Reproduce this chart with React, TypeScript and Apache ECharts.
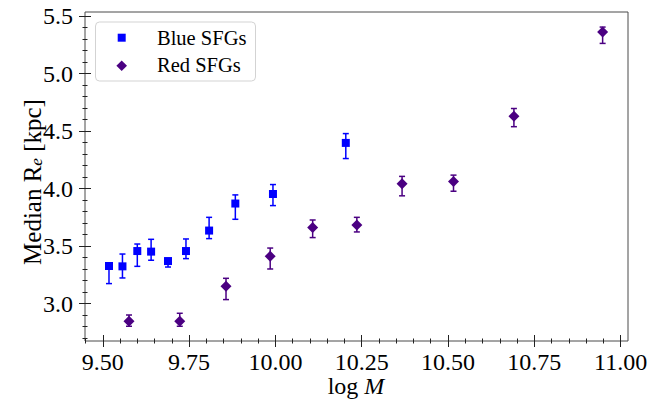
import React, { useEffect, useRef } from "react";
import * as echarts from "echarts";

// Blue SFGs: log M, median Re, lower / upper error-bar ends
const blueX = [9.518, 9.557, 9.6, 9.64, 9.689, 9.741, 9.808, 9.884, 9.993, 10.204];
const blueY = [3.327, 3.324, 3.457, 3.452, 3.37, 3.457, 3.635, 3.87, 3.953, 4.397];
const blueLo = [3.174, 3.223, 3.324, 3.377, 3.318, 3.391, 3.565, 3.733, 3.852, 4.261];
const blueHi = [3.345, 3.431, 3.518, 3.559, 3.39, 3.562, 3.75, 3.945, 4.035, 4.478];

// Red SFGs
const redX = [9.576, 9.723, 9.857, 9.985, 10.108, 10.236, 10.367, 10.516, 10.691, 10.948];
const redY = [2.846, 2.846, 3.15, 3.411, 3.661, 3.684, 4.042, 4.062, 4.629, 5.361];
const redLo = [2.803, 2.803, 3.035, 3.301, 3.574, 3.623, 3.937, 3.977, 4.538, 5.262];
const redHi = [2.901, 2.916, 3.22, 3.483, 3.727, 3.75, 4.106, 4.117, 4.696, 5.404];

// Axis ranges and ticks
const X_MIN = 9.4485;
const X_MAX = 11.0215;
const Y_MIN = 2.675;
const Y_MAX = 5.535;
const xMajor = [9.5, 9.75, 10.0, 10.25, 10.5, 10.75, 11.0];
const xMinor = [
  9.45, 9.55, 9.6, 9.65, 9.7, 9.8, 9.85, 9.9, 9.95, 10.05, 10.1, 10.15, 10.2,
  10.3, 10.35, 10.4, 10.45, 10.55, 10.6, 10.65, 10.7, 10.8, 10.85, 10.9, 10.95,
];
const yMajor = [3.0, 3.5, 4.0, 4.5, 5.0, 5.5];
const yMinor = [
  2.7, 2.8, 2.9, 3.1, 3.2, 3.3, 3.4, 3.6, 3.7, 3.8, 3.9, 4.1, 4.2, 4.3, 4.4,
  4.6, 4.7, 4.8, 4.9, 5.1, 5.2, 5.3, 5.4,
];

const BLUE = "#0000ff";
const RED = "#4b0082";
const FONT = "'Liberation Serif', 'DejaVu Serif', serif";

function errorBars(name: string, xs: number[], lo: number[], hi: number[], color: string) {
  return {
    name,
    type: "custom",
    xAxisIndex: 0,
    yAxisIndex: 0,
    z: 2,
    encode: { x: 0, y: [1, 2] },
    data: xs.map((x, i) => [x, lo[i], hi[i]]),
    renderItem: (_params: any, api: any) => {
      const x = api.value(0);
      const pLo = api.coord([x, api.value(1)]);
      const pHi = api.coord([x, api.value(2)]);
      const cw = 3;
      const st = { stroke: color, lineWidth: 1.5 };
      return {
        type: "group",
        children: [
          { type: "line", shape: { x1: pLo[0], y1: pLo[1], x2: pHi[0], y2: pHi[1] }, style: st },
          { type: "line", shape: { x1: pLo[0] - cw, y1: pLo[1], x2: pLo[0] + cw, y2: pLo[1] }, style: st },
          { type: "line", shape: { x1: pHi[0] - cw, y1: pHi[1], x2: pHi[0] + cw, y2: pHi[1] }, style: st },
        ],
      };
    },
  };
}

export default function App() {
  const ref = useRef<HTMLDivElement>(null);
  useEffect(() => {
    if (!ref.current) return;
    const chart = echarts.init(ref.current, undefined, { renderer: "svg" });

    const gridRect = { left: 85, top: 12, width: 543, height: 329 };
    const tickSets = [
      { xv: xMajor, yv: yMajor, len: 6, inside: false },
      { xv: xMajor, yv: yMajor, len: 6, inside: true },
      { xv: xMinor, yv: yMinor, len: 2.5, inside: false },
      { xv: xMinor, yv: yMinor, len: 2.5, inside: true },
    ];

    const grid = tickSets.map((_, i) => ({
      ...gridRect,
      show: i === 0,
      borderColor: "#4a4a4a",
      borderWidth: 1,
      backgroundColor: "transparent",
    }));

    const labelStyle = { fontFamily: FONT, fontSize: 24, lineHeight: 20, color: "#000" };

    const xAxis = tickSets.map((t, i) => ({
      type: "value",
      gridIndex: i,
      min: X_MIN,
      max: X_MAX,
      position: "bottom",
      axisLine: { show: false },
      splitLine: { show: false },
      axisTick: {
        show: true,
        inside: t.inside,
        length: t.len,
        customValues: t.xv,
        lineStyle: { color: "#222", width: 1 },
      },
      axisLabel:
        i === 0
          ? {
              show: true,
              customValues: xMajor,
              formatter: (v: number) => v.toFixed(2),
              margin: 11,
              ...labelStyle,
            }
          : { show: false },
    }));

    const yAxis = tickSets.map((t, i) => ({
      type: "value",
      gridIndex: i,
      min: Y_MIN,
      max: Y_MAX,
      position: "left",
      axisLine: { show: false },
      splitLine: { show: false },
      axisTick: {
        show: true,
        inside: t.inside,
        length: t.len,
        customValues: t.yv,
        lineStyle: { color: "#222", width: 1 },
      },
      axisLabel:
        i === 0
          ? {
              show: true,
              customValues: yMajor,
              formatter: (v: number) => v.toFixed(1),
              margin: 12,
              ...labelStyle,
            }
          : { show: false },
    }));

    const legendText = (text: string, y: number) => ({
      type: "text",
      z: 11,
      x: 157,
      y,
      style: {
        text,
        fontFamily: FONT,
        fontSize: 20.5,
        fill: "#000",
        align: "left",
        verticalAlign: "middle",
        textAlign: "left",
        textVerticalAlign: "middle",
      },
    });

    const option: any = {
      animation: false,
      textStyle: { fontFamily: FONT },
      grid,
      xAxis,
      yAxis,
      series: [
        errorBars("Blue SFGs err", blueX, blueLo, blueHi, BLUE),
        errorBars("Red SFGs err", redX, redLo, redHi, RED),
        {
          name: "Blue SFGs",
          type: "scatter",
          xAxisIndex: 0,
          yAxisIndex: 0,
          z: 3,
          symbol: "rect",
          symbolSize: 8,
          itemStyle: { color: BLUE, opacity: 1 },
          data: blueX.map((x, i) => [x, blueY[i]]),
        },
        {
          name: "Red SFGs",
          type: "scatter",
          xAxisIndex: 0,
          yAxisIndex: 0,
          z: 3,
          symbol: "diamond",
          symbolSize: 11,
          itemStyle: { color: RED, opacity: 1 },
          data: redX.map((x, i) => [x, redY[i]]),
        },
      ],
      graphic: [
        // legend
        {
          type: "rect",
          z: 10,
          shape: { x: 95.5, y: 22, width: 160, height: 59, r: 4 },
          style: { fill: "rgba(255,255,255,0.85)", stroke: "#d3d3d3", lineWidth: 1 },
        },
        {
          type: "rect",
          z: 11,
          shape: { x: 117.7, y: 33.7, width: 8, height: 8 },
          style: { fill: BLUE },
        },
        {
          type: "polygon",
          z: 11,
          shape: {
            points: [
              [121.7, 60.4],
              [127, 65.7],
              [121.7, 71],
              [116.4, 65.7],
            ],
          },
          style: { fill: RED },
        },
        legendText("Blue SFGs", 37.5),
        legendText("Red SFGs", 64.5),
        // x axis name
        {
          type: "text",
          x: 356,
          y: 386,
          style: {
            text: "{a|log }{b|M}",
            align: "center",
            verticalAlign: "middle",
            textAlign: "center",
            textVerticalAlign: "middle",
            rich: {
              a: { fontFamily: FONT, fontSize: 24, lineHeight: 20, color: "#000" },
              b: { fontFamily: FONT, fontSize: 24, lineHeight: 20, fontStyle: "italic", color: "#000" },
            },
          },
        },
        // y axis name
        {
          type: "text",
          x: 30,
          y: 182,
          rotation: Math.PI / 2,
          style: {
            text: "{a|Median R}{s|e}{a| [kpc]}",
            align: "center",
            verticalAlign: "middle",
            textAlign: "center",
            textVerticalAlign: "middle",
            rich: {
              a: {
                fontFamily: FONT,
                fontSize: 25,
                color: "#000",
                lineHeight: 20,
                verticalAlign: "top",
              },
              s: {
                fontFamily: FONT,
                fontSize: 17,
                lineHeight: 17,
                fontStyle: "italic",
                color: "#000",
                verticalAlign: "top",
                padding: [8, 0, 0, 0],
              },
            },
          },
        },
      ],
    };

    chart.setOption(option);
    return () => chart.dispose();
  }, []);

  return (
    <div
      ref={ref}
      style={{ position: "fixed", left: 0, top: 0, width: 662, height: 400, background: "#fff" }}
    />
  );
}
